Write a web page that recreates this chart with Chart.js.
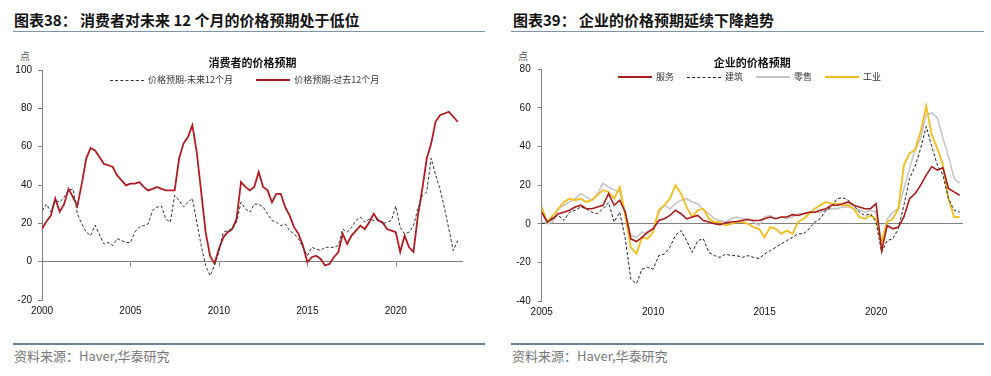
<!DOCTYPE html>
<html>
<head>
<meta charset="utf-8">
<script src="https://cdn.jsdelivr.net/npm/chart.js@4.4.1/dist/chart.umd.min.js"></script>
<style>
  body { margin: 0; width: 991px; height: 376px; background: #fff; position: relative; overflow: hidden; font-family: "Noto Sans CJK SC", sans-serif; }
  .hd { position: absolute; top: 10px; font-size: 15px; font-weight: bold; color: #111; white-space: nowrap; line-height: 20px; }
  .rule { position: absolute; top: 31px; height: 1px; background: #7d93a8; }
  .foot { position: absolute; top: 343px; height: 2px; background: #6b8199; }
  .src { position: absolute; top: 347px; font-size: 13px; color: #777; line-height: 18px; white-space: nowrap; }
  .unit { position: absolute; top: 48px; font-size: 10px; color: #555; }
  .box { position: absolute; }
  .legend { position: absolute; display: flex; align-items: center; font-size: 9px; color: #333; white-space: nowrap; line-height: 12px; }
  .legend .ln { display: inline-block; width: 34px; height: 0; margin-right: 4px; }
</style>
</head>
<body>
<div class="hd" style="left:14px">图表38： 消费者对未来 12 个月的价格预期处于低位</div>
<div class="rule" style="left:13px;width:472px"></div>
<div class="hd" style="left:513px">图表39： 企业的价格预期延续下降趋势</div>
<div class="rule" style="left:511px;width:473px"></div>

<div class="unit" style="left:20px">点</div>
<div class="unit" style="left:518px">点</div>

<div class="box" style="left:0;top:40px;width:465px;height:282px"><canvas id="leftChart"></canvas></div>
<div class="box" style="left:505px;top:40px;width:460px;height:283px"><canvas id="rightChart"></canvas></div>

<div class="legend" id="leftLegend" style="left:110px;top:74px"></div>
<div class="legend" id="rightLegend" style="left:618px;top:71px"></div>

<div class="foot" style="left:13px;width:472px"></div>
<div class="foot" style="left:511px;width:473px"></div>
<div class="src" style="left:14px">资料来源：Haver,华泰研究</div>
<div class="src" style="left:512px">资料来源：Haver,华泰研究</div>

<script>
// quarterly readings, left chart starts 2000Q1, right chart 2005Q1
const leftStart = 2000;
const rightStart = 2005;
const yearTicks = [2000, 2005, 2010, 2015, 2020];

const expectNext12 = [26.6,30,26,32,31,33.7,37.2,38,
  25,19.7,15.4,13.6,19,14,9.2,10,
  8.4,12,11,10,10,15.4,18,18.8,
  19.7,26.7,28.5,29,22.3,20.6,34.6,32,
  28.5,31,33,20.6,8.4,-2,-7.3,-2,
  4.9,15.4,16.2,17,20.6,31,27.6,25.8,
  30,30,28.5,25,21.5,20.6,18.8,19.7,
  16.2,14.5,12,7.5,3.1,7.5,6.6,5.8,
  7.5,7.5,7.5,8.4,17,15.4,18,21.5,
  23.2,20.6,22.3,21.5,22.3,19.7,20.6,21.5,
  29,18,14.5,15.4,18.8,27.6,34.6,36.3,
  54,45.4,38,28,17,5.8,11];

const expectPast12 = [17,21,24,33,26,30,38,33.7,
  29,40.7,53.8,59.3,58,54.6,51,50.3,
  49.4,45,42.4,39.8,40.7,40.7,41.5,39,
  37.2,38,39,38,37.2,37.2,37.2,53.8,
  61.6,65,71.2,57,36.3,15.4,3,-1,
  6.6,12.7,15.4,17,22.3,41.5,39,37.2,
  39,46.8,39,37.2,31,35.4,35.4,28.4,
  24,18,14.5,8.4,-0.3,2.3,3.1,1.4,
  -2,-1.2,2.3,4.9,14.5,9.2,13.6,16.2,
  18.8,17,20.6,25,21.5,20.6,17,16.2,
  15.4,5,13.6,7.5,5,24,38,53.8,
  61.6,73,76.4,77.3,78.2,75.6,73];

const services = [6,1,2.6,5.2,6,7,8.7,9.6,
  7.8,7.8,8.7,9.6,15.6,9.6,12.2,6,
  -7.8,-9.2,-7,-4.3,-2.6,1.7,2.6,4.3,
  7,5.2,2.6,3.5,4.3,1.7,0.9,0,
  -0.5,0.5,0.9,1.2,1.7,2.2,1.7,1.7,
  2.6,3.5,2.6,3.5,3.5,4.7,4.3,5.2,
  6,6,7,7.8,9.6,9.6,10.4,11.3,
  9.6,8.7,7.8,7.8,10.4,-14,-0.9,-2.6,
  -1.7,3.5,13,15.6,20,25.2,29.6,27.8,
  29,18.3,16.5,14.8];

const construction = [0,0.9,3.5,4.3,1.7,6,7,8.7,
  7.8,6,5.2,7.8,11,0.9,6,-7.8,
  -28.7,-31,-23.5,-22.6,-23.5,-16.5,-15.7,-12.2,
  -6,-3.5,-8.7,-14.8,-8.7,-7.8,-14.8,-16.5,
  -17.4,-15.7,-16.5,-16.5,-17.4,-16.5,-17.4,-18,
  -15.7,-13.9,-12.2,-10.4,-8.7,-7,-5.2,-5.2,
  -2.6,0.9,2.6,7,8.7,13,13.5,12.2,
  9.6,6,4.3,5.2,0.9,-14.8,-8.7,-7.8,
  -2.6,9.6,23.5,29.6,39,50.4,40,30.4,
  25.2,13,7,6];

const retail = [6,0,0.9,7.8,9.6,11.3,13,15.6,
  13.9,12.2,15.6,20.9,19,17.4,16.5,6,
  -6,-7,-4.3,-5.2,-2.6,6,9.6,7.8,
  10.4,12.2,13,11.3,10.4,7,5.2,2.6,
  1.7,0.9,2.6,3.5,2.6,2.6,0.9,-0.9,
  3.5,4.3,2.6,3.5,2.6,3.5,5.2,5.2,
  6,6,6,7,7.8,7.8,8.7,8.7,
  7.8,7,6,7,6,-9.6,2.6,6,
  7.8,18.3,28.7,38.3,44.3,56.5,57.4,54.8,
  44.3,34.8,23.5,20.9];

const industry = [8.7,0.9,4.3,7.8,11.3,13,12.2,13,
  11.3,12.2,14.8,17.4,16.5,13,19,4.3,
  -12.2,-15.5,-7,-7.8,-4.3,7,9.6,13,
  20,15.6,8.7,3.5,7,7.8,2.6,0.9,
  0.9,-0.9,0,0.9,0.9,0,-1.7,-2.6,
  -7,-1.7,-2.6,-5.2,-3.5,-5.2,0.9,2.6,
  5.2,7.8,9.6,11.3,10.4,10.4,9.6,9.6,
  7.8,3.5,2.6,4.3,2.6,-9.6,0.9,2.6,
  7.8,30.4,36.5,38.3,47.8,60.9,46,39,
  30.4,13,3.5,3.5];

const toXY = (arr, start) => arr.map((v, i) => ({ x: start + i / 4, y: v }));

const tickFont = { family: '"Liberation Sans", Arial, sans-serif', size: 10 };

// small ticks hanging from the zero line
const zeroTicks = {
  id: 'zeroTicks',
  afterDatasetsDraw(chart, args, opts) {
    if (!opts.show) return;
    const { ctx, scales: { x, y } } = chart;
    const y0 = Math.round(y.getPixelForValue(0)) + 0.5;
    ctx.save();
    ctx.strokeStyle = '#808080';
    ctx.lineWidth = 1;
    x.ticks.forEach(t => {
      if (t.value === x.min) return;
      const px = Math.round(x.getPixelForValue(t.value)) + 0.5;
      ctx.beginPath(); ctx.moveTo(px, y0); ctx.lineTo(px, y0 + 4); ctx.stroke();
    });
    ctx.restore();
  }
};

function makeChart(id, title, datasets, o) {
  return new Chart(document.getElementById(id), {
    type: 'line',
    data: { datasets },
    plugins: [zeroTicks],
    options: {
      responsive: true, maintainAspectRatio: false, animation: false,
      layout: { padding: { left: 0, right: 2, top: 0, bottom: 0 } },
      elements: { point: { radius: 0 }, line: { tension: 0 } },
      plugins: {
        legend: { display: false },
        tooltip: { enabled: false },
        zeroTicks: { show: o.zeroTicks },
        title: {
          display: true, text: title, fullSize: false, color: '#111',
          font: { family: '"Noto Sans CJK SC", sans-serif', size: 11, weight: 'bold' },
          padding: { top: 16, bottom: o.titleGap }
        }
      },
      scales: {
        x: {
          type: 'linear', min: o.xMin, max: o.xMax,
          afterBuildTicks: s => { s.ticks = yearTicks.filter(v => v >= o.xMin).map(v => ({ value: v })); },
          grid: { display: false, drawTicks: false },
          border: { display: false },
          ticks: { font: tickFont, color: '#111', padding: 5, maxRotation: 0, callback: v => String(v) }
        },
        y: {
          min: o.yMin, max: o.yMax,
          afterFit: s => { s.width = o.yWidth; },
          ticks: { stepSize: 20, font: tickFont, color: '#111', padding: o.yPad },
          grid: {
            color: c => c.tick && c.tick.value === 0 ? '#808080' : 'rgba(0,0,0,0)',
            tickColor: '#808080', tickLength: 4, lineWidth: 1
          },
          border: { display: true, color: '#808080' }
        }
      }
    }
  });
}

const leftSets = [
  { label: '价格预期-未来12个月', data: toXY(expectNext12, leftStart), borderColor: '#333', borderWidth: 1, borderDash: [3, 2], order: 1 },
  { label: '价格预期-过去12个月', data: toXY(expectPast12, leftStart), borderColor: '#b01c22', borderWidth: 1.8, order: 2 }
];
makeChart('leftChart', '消费者的价格预期', leftSets,
  { xMin: 2000, xMax: 2023.8, yMin: -20, yMax: 100, yWidth: 42, yPad: 6, titleGap: 0.8, zeroTicks: true });

const rightSets = [
  { label: '服务', data: toXY(services, rightStart), borderColor: '#a81c1c', borderWidth: 1.6, order: 1 },
  { label: '建筑', data: toXY(construction, rightStart), borderColor: '#222', borderWidth: 1, borderDash: [3, 2], order: 2 },
  { label: '零售', data: toXY(retail, rightStart), borderColor: '#c4c4c4', borderWidth: 1.5, order: 4 },
  { label: '工业', data: toXY(industry, rightStart), borderColor: '#f2bd1d', borderWidth: 1.8, order: 3 }
];
makeChart('rightChart', '企业的价格预期', rightSets,
  { xMin: 2005, xMax: 2023.9, yMin: -40, yMax: 80, yWidth: 36.7, yPad: 7, titleGap: 0.1, zeroTicks: false });

// html legends built from the series names and line styles
const legendStyles = {
  leftLegend: [['价格预期-未来12个月', '#333', 1, 'dashed'], ['价格预期-过去12个月', '#b01c22', 2, 'solid']],
  rightLegend: [['服务', '#a81c1c', 2, 'solid'], ['建筑', '#222', 1, 'dashed'], ['零售', '#c4c4c4', 2, 'solid'], ['工业', '#f2bd1d', 2, 'solid']]
};
function buildLegend(elId, gap) {
  document.getElementById(elId).innerHTML = legendStyles[elId].map(([label, color, w, style]) =>
    `<span class="ln" style="border-top:${w}px ${style} ${color}"></span><span style="margin-right:${gap}px">${label}</span>`
  ).join('');
}
buildLegend('leftLegend', 23);
buildLegend('rightLegend', 13);
</script>
</body>
</html>
